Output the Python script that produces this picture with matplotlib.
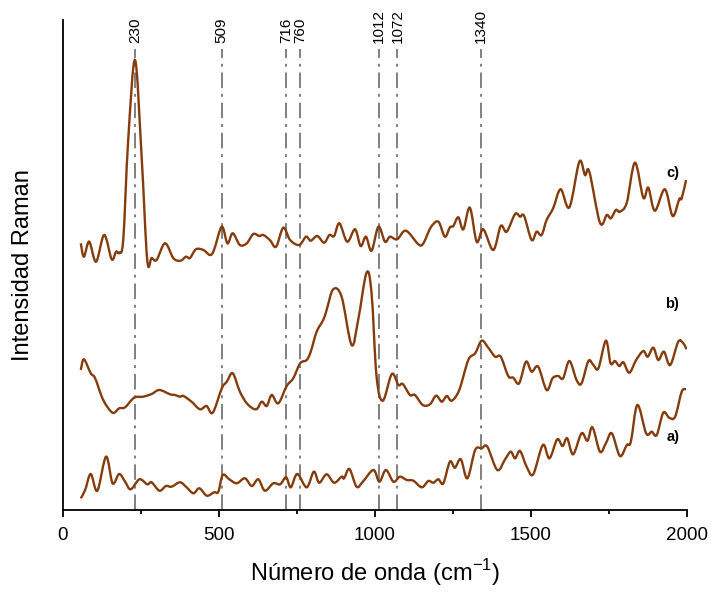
import numpy as np
import matplotlib
matplotlib.use("Agg")
import matplotlib.pyplot as plt
from matplotlib.path import Path
from matplotlib.patches import PathPatch

plt.rcParams['font.family'] = ['Liberation Sans', 'DejaVu Sans']

# Spectrum a) (bottom trace): wavenumber (cm-1) and intensity (a.u.)
wn_a = [57, 71, 89, 110, 138, 159, 180, 199, 217, 245, 270, 284, 309, 330, 348, 375,
        396, 418, 437, 461, 484, 498, 512, 533, 557, 583, 605, 626, 647, 674, 696, 715,
        730, 751, 781, 804, 821, 845, 869, 893, 901, 918, 941, 961, 995, 1014, 1035,
        1059, 1080, 1102, 1123, 1150, 1171, 1187, 1203, 1219, 1240, 1256, 1275, 1296,
        1321, 1342, 1360, 1392, 1417, 1435, 1449, 1465, 1486, 1507, 1538, 1559, 1584,
        1601, 1616, 1635, 1662, 1681, 1697, 1721, 1740, 1759, 1785, 1807, 1820, 1841,
        1869, 1887, 1903, 1924, 1943, 1962, 1983, 1997]
int_a = [11.7, 20, 36, 19.3, 53.3, 26.7, 36, 28.3, 20.7, 30.7, 25.7, 27.7, 19.3, 24, 23.3,
         27.7, 22.7, 16.7, 21.7, 14.3, 17.7, 18.3, 35, 30.7, 26.7, 31.7, 24, 30.7, 19.3,
         26.7, 25.7, 32.7, 22.7, 36, 22.7, 38.3, 27.3, 35.7, 27.3, 33.3, 31.7, 41, 23.3,
         28.3, 40, 28.3, 40, 28.3, 33.3, 30, 29.3, 22.7, 29, 27.3, 30.7, 26.7, 48.3, 42.3,
         50.7, 31.7, 60, 61.7, 63.3, 40, 50.7, 58.3, 51.7, 59, 43.3, 35.7, 65, 51.7, 70.7,
         64, 71.7, 55.7, 76.7, 69.3, 82.7, 58.3, 66.7, 76.7, 54, 65, 68.3, 105, 76.7, 78.3,
         75, 97.3, 92.3, 93.3, 118.3, 120.7]

# Spectrum b) (middle trace)
wn_b = [57, 67, 89, 103, 129, 159, 180, 199, 228, 257, 284, 309, 343, 359, 375, 386,
        412, 439, 460, 480, 509, 525, 544, 567, 591, 619, 637, 653, 669, 690, 717, 738,
        760, 781, 794, 813, 834, 845, 866, 893, 925, 946, 973, 989, 1005, 1025, 1054,
        1075, 1089, 1112, 1128, 1153, 1176, 1196, 1214, 1230, 1246, 1270, 1299, 1321,
        1342, 1363, 1385, 1403, 1427, 1443, 1462, 1484, 1502, 1523, 1550, 1569, 1587,
        1603, 1623, 1646, 1662, 1684, 1700, 1716, 1740, 1755, 1769, 1783, 1796, 1815,
        1837, 1860, 1874, 1892, 1908, 1926, 1946, 1972, 1988, 1999]
int_b = [140, 150.7, 136.7, 131.7, 110, 97.3, 101.7, 102.7, 112.3, 113.3, 116, 120, 115.7,
         115, 113.3, 114, 108.3, 100.7, 104, 97.3, 121.7, 128.3, 136.7, 118.3, 106, 100.7,
         108.3, 104, 115, 106.7, 124, 131.7, 146.7, 150, 158.3, 178.3, 190, 200, 220.7,
         213.3, 165, 190, 237.3, 216.7, 133.3, 109.3, 136, 125, 126, 115, 115, 105, 105.7,
         114.3, 108.3, 114, 109.3, 120, 150, 156.7, 169.3, 162.3, 153.3, 153.3, 134, 132.3,
         126.7, 148.3, 138.3, 143.3, 120, 131.7, 134, 131.7, 149, 130, 126.7, 149, 145,
         141.7, 169.3, 146.7, 149, 144, 147.7, 137.3, 150, 159, 153.3, 162.3, 150, 158.3,
         145, 168.3, 166.7, 160.7]

# Spectrum c) (top trace)
wn_c = [57, 67, 84, 106, 132, 156, 170, 180, 193, 209, 231, 252, 270, 284, 300, 327,
        354, 377, 394, 407, 426, 450, 471, 484, 509, 527, 544, 567, 589, 610, 629, 642,
        663, 683, 706, 728, 757, 779, 794, 815, 837, 854, 869, 886, 911, 936, 954, 971,
        989, 1011, 1032, 1048, 1071, 1099, 1139, 1155, 1179, 1203, 1224, 1240, 1251,
        1267, 1283, 1304, 1326, 1347, 1379, 1403, 1422, 1449, 1465, 1478, 1502, 1518,
        1534, 1550, 1571, 1595, 1623, 1655, 1673, 1687, 1721, 1743, 1756, 1772, 1785,
        1807, 1833, 1860, 1876, 1897, 1929, 1954, 1975, 1983, 1997]
int_c = [266.7, 253.3, 268.3, 248.3, 275, 250.7, 258.3, 257.3, 270, 370, 450, 353.3, 250,
         252, 250, 266.7, 251.7, 249.3, 253.3, 252, 260.7, 260, 255, 260, 283.3, 266.7,
         276.7, 265, 266.7, 276, 274, 275, 270, 263.3, 282.3, 270, 265, 273.3, 269.3, 274,
         267.3, 275, 274, 286.7, 268.3, 280.7, 264, 273.3, 259.3, 283.3, 268.3, 273.3,
         270.7, 279.3, 265.7, 266.7, 282.7, 288.3, 273.3, 282.7, 284, 292.7, 280.7, 302.3,
         268.3, 280.7, 260, 284, 278.3, 296, 293.3, 294, 270, 278.3, 275, 290, 301.7, 320.7,
         302.7, 348.3, 335, 338.3, 287.3, 295, 291.7, 300, 298.3, 307.3, 347.3, 312.3,
         322.3, 299.3, 320.7, 294, 310.7, 311.7, 330]

# Marked band positions (cm-1)
bands = [230, 509, 716, 760, 1012, 1072, 1340]

# Trace labels and their positions
trace_labels = ["a)", "b)", "c)"]
label_x = [1956, 1951, 1954]
label_y = [73, 206, 337]

LINE_COLOR = "#843C0C"


def smooth_path(x, y):
    """Catmull-Rom spline through the points, expressed as cubic Bezier segments."""
    p = np.column_stack([x, y]).astype(float)
    n = len(p)
    verts = [p[0]]
    codes = [Path.MOVETO]
    for i in range(n - 1):
        p0 = p[i - 1] if i > 0 else p[i]
        p1 = p[i]
        p2 = p[i + 1]
        p3 = p[i + 2] if i + 2 < n else p[i + 1]
        c1 = p1 + (p2 - p0) / 6.0
        c2 = p2 - (p3 - p1) / 6.0
        verts.extend([c1, c2, p2])
        codes.extend([Path.CURVE4] * 3)
    return Path(verts, codes)


fig = plt.figure(figsize=(7.12, 5.92), dpi=100)
ax = fig.add_axes([63 / 712, 1 - 510 / 592, 624 / 712, 490 / 592])

ax.set_xlim(0, 2000)
ax.set_ylim(0, 490)

# Dash-dot reference lines with their wavenumber labels
trans = ax.get_xaxis_transform()
for b in bands:
    ax.plot([b, b], [0, 0.941], transform=trans, color="#808080", lw=1.4,
            ls=(0, (8, 3, 1.5, 3)), zorder=1, clip_on=False)
    ax.text(b, 0.953, str(b), transform=trans, rotation=90, ha="center", va="bottom",
            fontsize=11, color="black")

for wn, inten in [(wn_a, int_a), (wn_b, int_b), (wn_c, int_c)]:
    patch = PathPatch(smooth_path(wn, inten), facecolor="none", edgecolor=LINE_COLOR,
                      lw=1.7, zorder=3, transform=ax.transData)
    ax.add_patch(patch)

for lab, lx, ly in zip(trace_labels, label_x, label_y):
    ax.text(lx, ly, lab, ha="center", va="center", fontsize=10.5, fontweight="bold")

ax.spines["top"].set_visible(False)
ax.spines["right"].set_visible(False)
ax.spines["left"].set_linewidth(1.3)
ax.spines["bottom"].set_linewidth(1.3)

ax.set_xticks([0, 500, 1000, 1500, 2000])
ax.set_xticks([250, 750, 1250, 1750], minor=True)
ax.set_yticks([])
ax.tick_params(axis="x", which="major", direction="out", length=5, width=1.3,
               labelsize=13.5, pad=7)
ax.tick_params(axis="x", which="minor", direction="out", length=3, width=1.3)

ax.set_xlabel("Número de onda (cm$^{\\mathregular{-1}}$)", fontsize=17, labelpad=10)
ax.set_ylabel("Intensidad Raman", fontsize=17, labelpad=21)

fig.savefig("out.png", dpi=100)
